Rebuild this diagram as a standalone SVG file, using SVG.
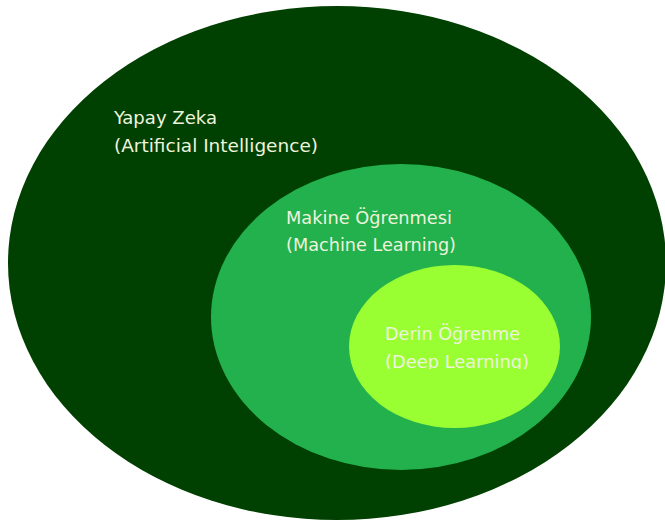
<svg xmlns="http://www.w3.org/2000/svg" width="665" height="521" viewBox="0 0 665 521">
  <style>
    .lbl { font-family: "DejaVu Sans Condensed", "DejaVu Sans", sans-serif; font-stretch: condensed; font-size: 18px; fill: #eef3dc; }
    .ai { fill: #004000; }
    .ml { fill: #22b14c; }
    .dl { fill: #99ff33; }
  </style>
  <defs>
    <clipPath id="dlTextClip">
      <rect x="370" y="320" width="180" height="49"/>
    </clipPath>
  </defs>
  <rect width="665" height="521" fill="#ffffff"/>

  <!-- Artificial intelligence: outermost set -->
  <g id="ai">
    <ellipse class="ai" cx="337" cy="263" rx="329" ry="257"/>
    <text class="lbl" x="114" y="124" textLength="103" lengthAdjust="spacingAndGlyphs">Yapay Zeka</text>
    <text class="lbl" x="114" y="152" textLength="204" lengthAdjust="spacingAndGlyphs">(Artificial Intelligence)</text>
  </g>

  <!-- Machine learning: subset of AI -->
  <g id="ml">
    <ellipse class="ml" cx="401" cy="317" rx="190" ry="153"/>
    <text class="lbl" x="286" y="224" textLength="166" lengthAdjust="spacingAndGlyphs">Makine Öğrenmesi</text>
    <text class="lbl" x="286" y="251" textLength="170" lengthAdjust="spacingAndGlyphs">(Machine Learning)</text>
  </g>

  <!-- Deep learning: subset of machine learning -->
  <g id="dl">
    <ellipse class="dl" cx="454.5" cy="346.5" rx="105.5" ry="81.5"/>
    <g clip-path="url(#dlTextClip)">
      <text class="lbl" x="385" y="340" textLength="135" lengthAdjust="spacingAndGlyphs">Derin Öğrenme</text>
      <text class="lbl" x="385" y="368" textLength="144" lengthAdjust="spacingAndGlyphs">(Deep Learning)</text>
    </g>
  </g>
</svg>
